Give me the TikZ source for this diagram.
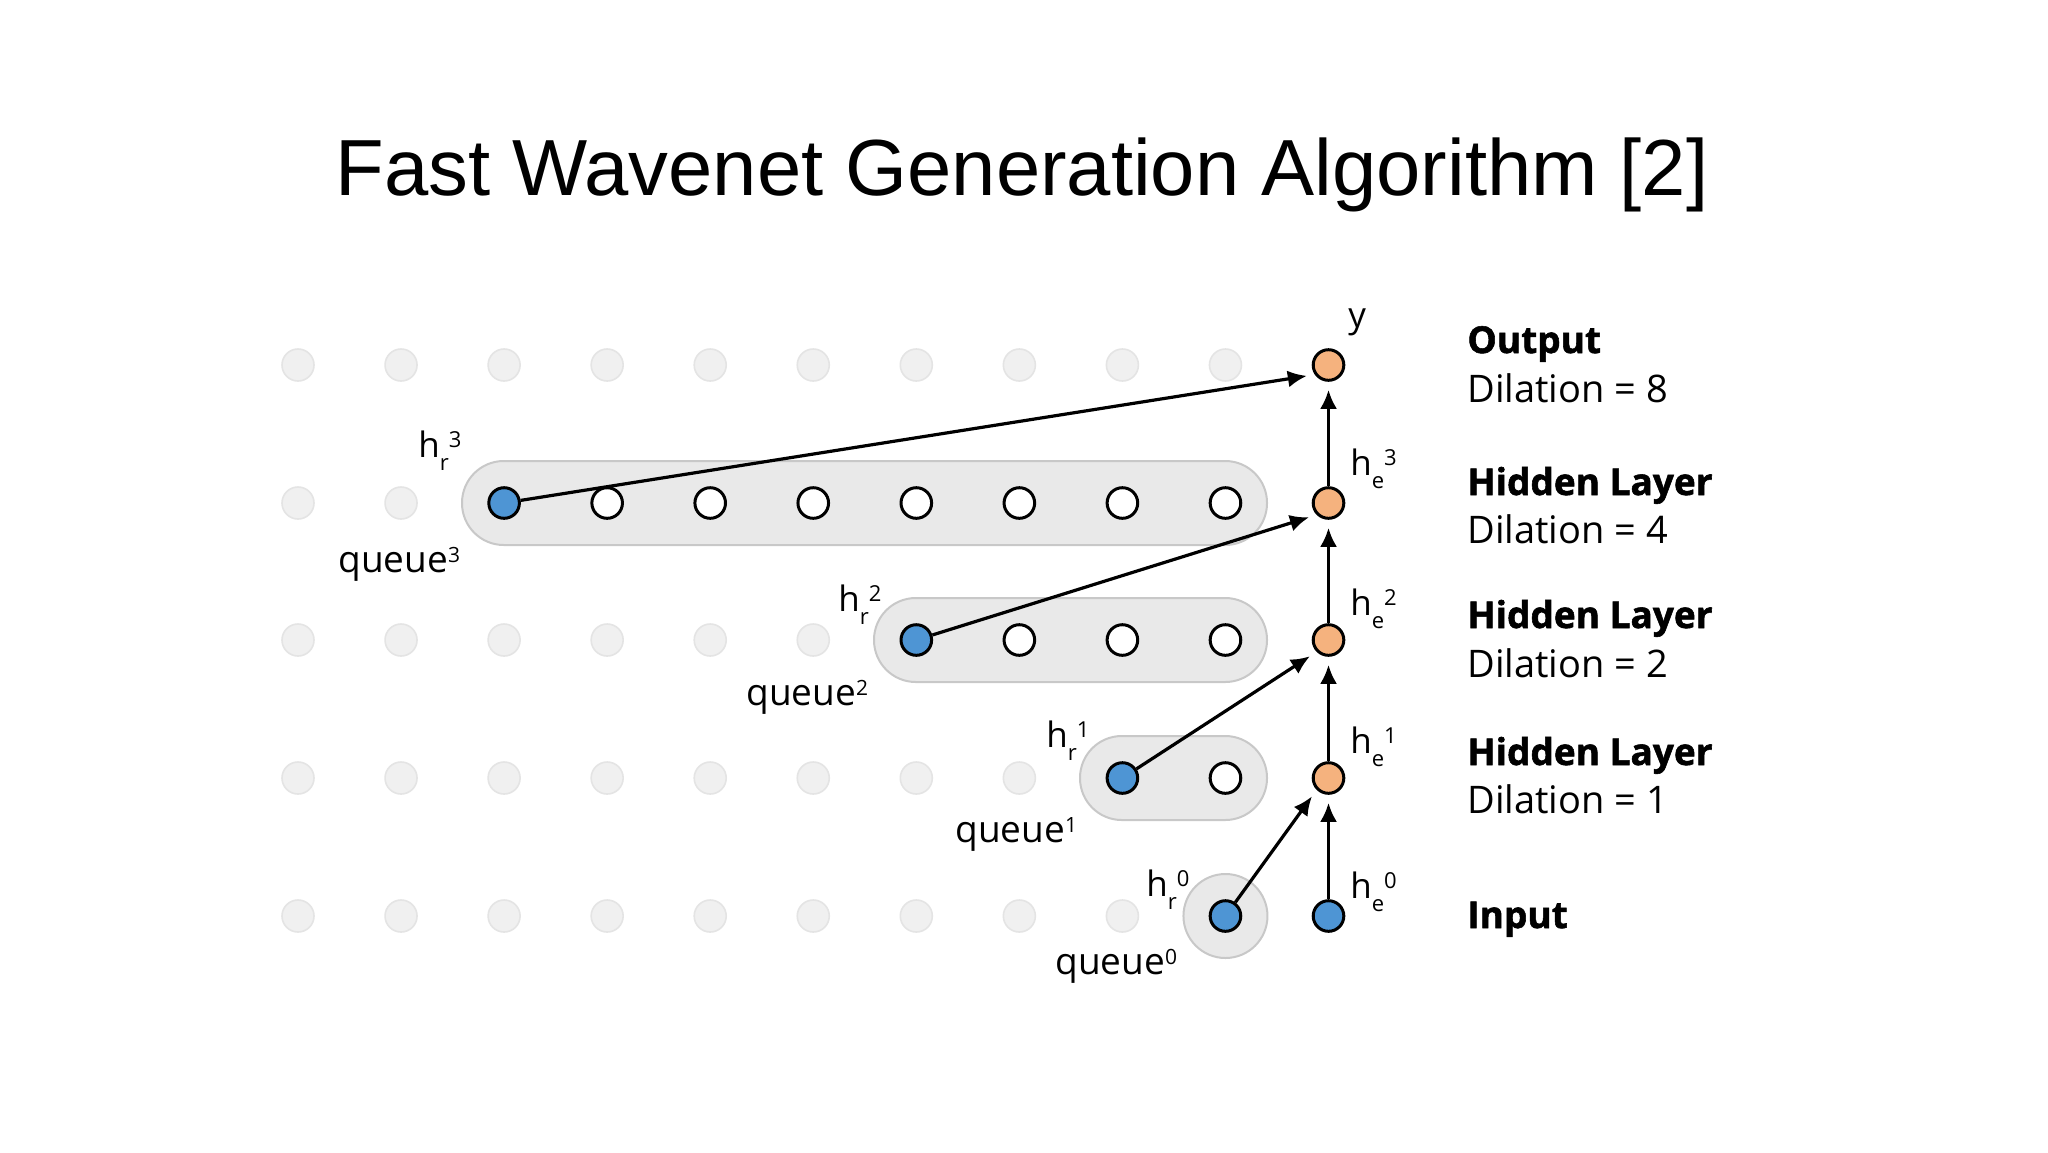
\documentclass[tikz,border=0pt]{standalone}
\usepackage{fontspec}
\setmainfont{Open Sans}
\newfontfamily\titlefont{Liberation Sans}
\newfontfamily\heavyfont[BoldFeatures={FakeBold=1.5}]{Open Sans}
\usetikzlibrary{arrows.meta}
\definecolor{nblue}{HTML}{4E95D4}
\definecolor{norange}{HTML}{F5B27E}
\definecolor{capfill}{HTML}{E9E9E9}
\definecolor{capline}{HTML}{C8C8C8}
\definecolor{dotfill}{HTML}{F0F0F0}
\definecolor{dotline}{HTML}{E4E4E4}
\newcommand{\hlab}[2]{h\raisebox{-6.5pt}{\fontsize{11}{11}\selectfont #1}\raisebox{5pt}{\fontsize{11}{11}\selectfont #2}}
\newcommand{\qlab}[1]{queue\raisebox{5pt}{\fontsize{10.5}{10.5}\selectfont #1}}
\begin{document}
\begin{tikzpicture}[x=0.5pt,y=-0.5pt,
  gdot/.style={circle, fill=dotfill, draw=dotline, line width=0.8pt, minimum size=16pt, inner sep=0pt},
  qnode/.style={circle, draw=black, line width=1.5pt, minimum size=15.3pt, inner sep=0pt},
  bnode/.style={qnode, fill=nblue},
  onode/.style={qnode, fill=norange},
  wnode/.style={qnode, fill=white},
  conn/.style={-{Latex[length=9.5pt,width=8.5pt]}, line width=1.6pt, shorten >=4pt},
  capsule/.style={fill=capfill, draw=capline, line width=1pt},
  hl/.style={font=\fontsize{17.5}{20}\selectfont, inner sep=0pt, anchor=base west},
  ql/.style={font=\fontsize{18.5}{22}\selectfont, inner sep=0pt, anchor=base west},
  rl/.style={font=\fontsize{19}{23}\selectfont, inner sep=0pt, anchor=base west},
  rb/.style={font=\heavyfont\fontsize{18.5}{22}\selectfont\bfseries, inner sep=0pt, anchor=base west}]
\path[use as bounding box, fill=white] (0,0) rectangle (2048,1152);
\node[font=\titlefont\fontsize{39.8}{48}\selectfont, anchor=base, inner sep=0pt] (title) at (1022,195) {Fast Wavenet Generation Algorithm [2]};
% background grid dots
\foreach \i in {0,...,9} \node[gdot] (g4-\i) at ({298+103.05*\i},365) {};
\foreach \i in {0,1} \node[gdot] (g3-\i) at ({298+103.05*\i},503) {};
\foreach \i in {0,...,5} \node[gdot] (g2-\i) at ({298+103.05*\i},640) {};
\foreach \i in {0,...,7} \node[gdot] (g1-\i) at ({298+103.05*\i},778) {};
\foreach \i in {0,...,8} \node[gdot] (g0-\i) at ({298+103.05*\i},916) {};
% queues
\draw[capsule, rounded corners=20.9pt] (462,461) rectangle (1267,545);
\draw[capsule, rounded corners=20.9pt] (874,598) rectangle (1267,682);
\draw[capsule, rounded corners=20.9pt] (1080,736) rectangle (1267,820);
\draw[capsule] (1225.45,916) circle[radius=21pt];
% nodes
\node[bnode] (b3) at (504.1,503) {};
\foreach \i in {3,...,9} \node[wnode] (w3-\i) at ({298+103.05*\i},503) {};
\node[bnode] (b2) at (916.3,640) {};
\foreach \i in {7,8,9} \node[wnode] (w2-\i) at ({298+103.05*\i},640) {};
\node[bnode] (b1) at (1122.4,778) {};
\node[wnode] (w1-9) at (1225.45,778) {};
\node[bnode] (b0) at (1225.45,916) {};
\node[bnode] (he0) at (1328.5,916) {};
\node[onode] (he1) at (1328.5,778) {};
\node[onode] (he2) at (1328.5,640) {};
\node[onode] (he3) at (1328.5,503) {};
\node[onode] (y) at (1328.5,365) {};
% connectors
\draw[conn] (he0) -- (he1);
\draw[conn] (he1) -- (he2);
\draw[conn] (he2) -- (he3);
\draw[conn] (he3) -- (y);
\draw[conn] (b0) -- (he1.south west);
\draw[conn] (b1) -- (he2.south west);
\draw[conn] (b2) -- (he3.south west);
\draw[conn] (b3) -- (y.215);
% labels
\node[hl] (ly) at (1348,327) {y};
\node[hl] (lhr3) at (418,457) {\hlab{r}{3}};
\node[hl] (lhr2) at (838,611) {\hlab{r}{2}};
\node[hl] (lhr1) at (1046,747) {\hlab{r}{1}};
\node[hl] (lhr0) at (1146,896) {\hlab{r}{0}};
\node[ql] (lq3) at (338,572) {\qlab{3}};
\node[ql] (lq2) at (746,705) {\qlab{2}};
\node[ql] (lq1) at (955,842) {\qlab{1}};
\node[ql] (lq0) at (1055,974) {\qlab{0}};
\node[hl] (lhe3) at (1350,475) {\hlab{e}{3}};
\node[hl] (lhe2) at (1350,615) {\hlab{e}{2}};
\node[hl] (lhe1) at (1350,753) {\hlab{e}{1}};
\node[hl] (lhe0) at (1350,898) {\hlab{e}{0}};
\node[rb] (tout) at (1467,353) {Output};
\node[rl] (dout) at (1467,402) {Dilation = 8};
\node[rb] (th3) at (1467,495) {Hidden Layer};
\node[rl] (dh3) at (1467,543) {Dilation = 4};
\node[rb] (th2) at (1467,628) {Hidden Layer};
\node[rl] (dh2) at (1467,677) {Dilation = 2};
\node[rb] (th1) at (1467,765) {Hidden Layer};
\node[rl] (dh1) at (1467,813) {Dilation = 1};
\node[rb] (tin) at (1467,928) {Input};
\end{tikzpicture}
\end{document}
